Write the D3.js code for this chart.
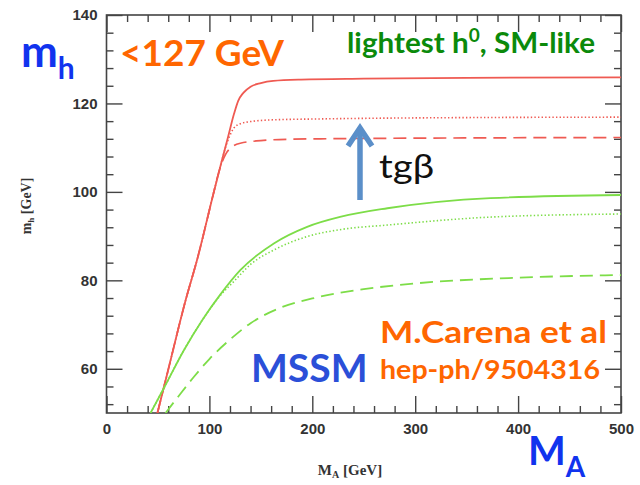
<!DOCTYPE html>
<html>
<head>
<meta charset="utf-8">
<script src="https://cdn.jsdelivr.net/npm/d3@7"></script>
<style>
  html, body { margin: 0; padding: 0; background: #fff; }
  svg { display: block; }
  .tick text { font-family: "Liberation Sans", Arial, sans-serif; font-weight: bold; font-size: 15px; fill: #333; }
  .axis path { display: none; }
  .axis line { stroke: #444; stroke-width: 1.4; }
</style>
</head>
<body>
<script>
// Lightest MSSM Higgs mass m_h versus M_A (GeV)
const xTicksMajor = [0, 100, 200, 300, 400, 500];
const yTicksMajor = [60, 80, 100, 120, 140];

// red family (upper set of curves)
const redSolidMA = [49.5, 60, 77, 88, 104, 112, 118, 124, 128, 133, 140, 150, 162, 189, 250, 350, 500];
const redSolidMh = [50, 59.8, 75.6, 84.6, 99.7, 107, 112.3, 117.7, 120.6, 122.4, 123.8, 124.6, 125.1, 125.4, 125.6, 125.8, 125.9];
const redDotMA = [49.5, 60, 77, 88, 104, 112, 116, 120, 124, 130, 140, 162, 208, 350, 500];
const redDotMh = [50, 59.8, 75.6, 84.6, 99.7, 107, 110.3, 112.8, 114.5, 115.4, 115.9, 116.3, 116.5, 116.8, 116.9];
const redDashMA = [49.5, 60, 77, 88, 104, 108, 112, 116, 120, 130, 150, 176, 208, 350, 500];
const redDashMh = [50, 59.8, 75.6, 84.6, 99.7, 103.5, 106.5, 108.6, 109.8, 111, 111.6, 111.9, 112, 112.2, 112.3];

// green family (lower set of curves)
const greenSolidMA = [42.8, 55.7, 75.2, 93, 110, 130, 163, 195, 228, 273, 373, 500];
const greenSolidMh = [50, 55.6, 64.2, 71, 76.6, 82.3, 88.4, 92.1, 94.4, 96.3, 98.6, 99.3];
const greenDotMA = [42.8, 55.7, 75.2, 93, 110, 124, 140, 163, 195, 228, 273, 373, 500];
const greenDotMh = [50, 55.6, 64.2, 71, 76.4, 79.8, 83.6, 86.9, 89.9, 91.5, 92.5, 94.3, 95.0];
const greenDashMA = [57.4, 70, 85, 100, 120, 140, 170, 200, 250, 300, 400, 500];
const greenDashMh = [50, 53.8, 58.2, 62.2, 66.6, 70.3, 73.9, 75.9, 78, 79.3, 80.6, 81.2];

const W = 640, H = 485;
const plot = { left: 106.5, right: 621, top: 15, bottom: 413 };

const x = d3.scaleLinear().domain([0, 500]).range([plot.left, plot.right]);
const y = d3.scaleLinear().domain([50, 140]).range([plot.bottom, plot.top]);

const svg = d3.select("body").append("svg").attr("width", W).attr("height", H);

svg.append("defs").append("clipPath").attr("id", "plotClip")
  .append("rect")
  .attr("x", plot.left).attr("y", plot.top)
  .attr("width", plot.right - plot.left).attr("height", plot.bottom - plot.top);

// frame
svg.append("rect")
  .attr("x", plot.left).attr("y", plot.top)
  .attr("width", plot.right - plot.left).attr("height", plot.bottom - plot.top)
  .attr("fill", "none").attr("stroke", "#444").attr("stroke-width", 1.6);

const xMinor = d3.range(0, 501, 20).filter(v => v % 100 !== 0);
const yMinor = d3.range(52, 141, 4).filter(v => (v - 60) % 20 !== 0);

// bottom axis
svg.append("g").attr("class", "axis").attr("transform", `translate(0,${plot.bottom})`)
  .call(d3.axisBottom(x).tickValues(xTicksMajor).tickSize(-17).tickPadding(10).tickFormat(d3.format("d")));
svg.append("g").attr("class", "axis").attr("transform", `translate(0,${plot.bottom})`)
  .call(d3.axisBottom(x).tickValues(xMinor).tickSize(-7).tickFormat(""));
// top axis
svg.append("g").attr("class", "axis").attr("transform", `translate(0,${plot.top})`)
  .call(d3.axisTop(x).tickValues(xTicksMajor).tickSize(-17).tickFormat(""));
svg.append("g").attr("class", "axis").attr("transform", `translate(0,${plot.top})`)
  .call(d3.axisTop(x).tickValues(xMinor).tickSize(-7).tickFormat(""));
// left axis
svg.append("g").attr("class", "axis").attr("transform", `translate(${plot.left},0)`)
  .call(d3.axisLeft(y).tickValues(yTicksMajor).tickSize(-16).tickPadding(9).tickFormat(d3.format("d")));
svg.append("g").attr("class", "axis").attr("transform", `translate(${plot.left},0)`)
  .call(d3.axisLeft(y).tickValues(yMinor).tickSize(-7).tickFormat(""));
// right axis
svg.append("g").attr("class", "axis").attr("transform", `translate(${plot.right},0)`)
  .call(d3.axisRight(y).tickValues(yTicksMajor).tickSize(-16).tickFormat(""));
svg.append("g").attr("class", "axis").attr("transform", `translate(${plot.right},0)`)
  .call(d3.axisRight(y).tickValues(yMinor).tickSize(-7).tickFormat(""));

// curves
const line = d3.line().x(d => x(d[0])).y(d => y(d[1])).curve(d3.curveMonotoneX);
const RED = "#ef5a52", GREEN = "#7ddd48";
const series = [
  { ma: redSolidMA, mh: redSolidMh, color: RED, dash: null, w: 1.8 },
  { ma: redDotMA, mh: redDotMh, color: RED, dash: "1.4,2.2", w: 1.6 },
  { ma: redDashMA, mh: redDashMh, color: RED, dash: "13,7", w: 1.7 },
  { ma: greenSolidMA, mh: greenSolidMh, color: GREEN, dash: null, w: 1.8 },
  { ma: greenDotMA, mh: greenDotMh, color: GREEN, dash: "1.4,2.2", w: 1.6 },
  { ma: greenDashMA, mh: greenDashMh, color: GREEN, dash: "13,7", w: 1.8 }
];
const curves = svg.append("g").attr("clip-path", "url(#plotClip)");
series.forEach(s => {
  curves.append("path")
    .datum(d3.zip(s.ma, s.mh))
    .attr("d", line)
    .attr("fill", "none")
    .attr("stroke", s.color)
    .attr("stroke-width", s.w)
    .attr("stroke-dasharray", s.dash);
});

// axis titles
const yt = svg.append("text")
  .attr("transform", "translate(31,206) rotate(-90)")
  .attr("text-anchor", "middle")
  .attr("font-family", "Liberation Serif, serif").attr("font-weight", "bold")
  .attr("font-size", 14).attr("fill", "#333");
yt.append("tspan").text("m");
yt.append("tspan").attr("font-size", 9).attr("dy", 3).text("h");
yt.append("tspan").attr("dy", -3).text(" [GeV]");

const xt = svg.append("text")
  .attr("x", 350).attr("y", 475)
  .attr("text-anchor", "middle")
  .attr("font-family", "Liberation Serif, serif").attr("font-weight", "bold")
  .attr("font-size", 15).attr("fill", "#333");
xt.append("tspan").text("M");
xt.append("tspan").attr("font-size", 10).attr("dy", 3).text("A");
xt.append("tspan").attr("dy", -3).text(" [GeV]");

// annotations
const F = "Lato, 'Open Sans', sans-serif";
const mh = svg.append("text").attr("x", 21).attr("y", 67)
  .attr("font-family", F).attr("font-weight", "bold").attr("font-size", 44).attr("fill", "#1133ee");
mh.append("tspan").text("m");
mh.append("tspan").attr("font-size", 30).attr("dy", 12).text("h");

svg.append("text").attr("x", 120).attr("y", 66)
  .attr("font-family", F).attr("font-weight", "bold").attr("font-size", 37).attr("fill", "#ff6600")
  .text("<127 GeV");

const lt = svg.append("text").attr("x", 347).attr("y", 53)
  .attr("font-family", F).attr("font-weight", "bold").attr("font-size", 28).attr("fill", "#0b8a0b")
  .attr("textLength", 248).attr("lengthAdjust", "spacingAndGlyphs");
lt.append("tspan").text("lightest h");
lt.append("tspan").attr("font-size", 18).attr("dy", -11).text("0");
lt.append("tspan").attr("dy", 11).text(", SM-like");

// tan(beta) arrow
const ARROW = "#5b8fc9";
svg.append("line").attr("x1", 360).attr("y1", 200).attr("x2", 360).attr("y2", 128)
  .attr("stroke", ARROW).attr("stroke-width", 5.5);
svg.append("polyline").attr("points", "348,146 360,128 372,146")
  .attr("fill", "none").attr("stroke", ARROW).attr("stroke-width", 5.5)
  .attr("stroke-linejoin", "miter").attr("stroke-linecap", "butt");
svg.append("text").attr("x", 379).attr("y", 178)
  .attr("font-family", F).attr("font-size", 33).attr("fill", "#111")
  .attr("textLength", 55).attr("lengthAdjust", "spacingAndGlyphs")
  .text("tgβ");

svg.append("text").attr("x", 251).attr("y", 382)
  .attr("font-family", F).attr("font-weight", "bold").attr("font-size", 39).attr("fill", "#2b4fd8")
  .text("MSSM");

svg.append("text").attr("x", 380).attr("y", 343)
  .attr("font-family", F).attr("font-weight", "bold").attr("font-size", 31).attr("fill", "#ff6600")
  .attr("textLength", 227).attr("lengthAdjust", "spacingAndGlyphs")
  .text("M.Carena et al");
svg.append("text").attr("x", 380).attr("y", 379)
  .attr("font-family", F).attr("font-weight", "bold").attr("font-size", 26).attr("fill", "#ff6600")
  .attr("textLength", 220).attr("lengthAdjust", "spacingAndGlyphs")
  .text("hep-ph/9504316");

const ma = svg.append("text").attr("x", 528).attr("y", 465)
  .attr("font-family", F).attr("font-weight", "bold").attr("font-size", 40).attr("fill", "#1133ee");
ma.append("tspan").text("M");
ma.append("tspan").attr("font-size", 28).attr("dy", 12).text("A");
</script>
</body>
</html>
